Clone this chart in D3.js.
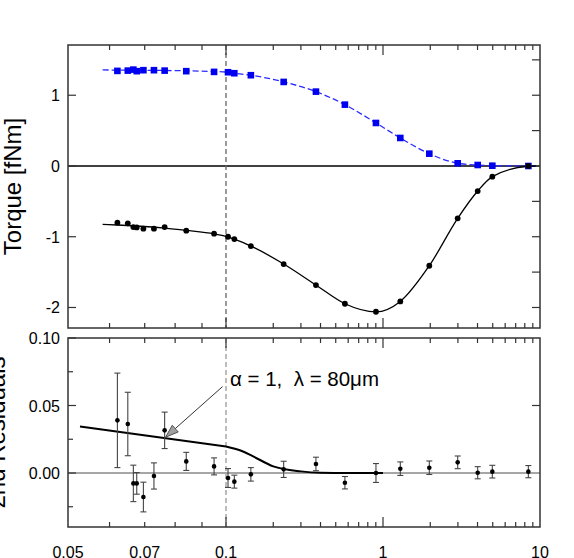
<!DOCTYPE html>
<html>
<head>
  <meta charset="utf-8">
  <script src="https://cdn.jsdelivr.net/npm/d3@7"></script>
<style type="text/css">
  body { margin: 0; background: #fff; }
  text { font-family: "Liberation Sans", Arial, sans-serif; }
</style>
</head>
<body>
<script>
  var w = 574;
  var h = 558;

  // separation values (shared by both torque series and the residuals)
  var sep = [0.0621, 0.065, 0.0666, 0.0676, 0.0696, 0.0729, 0.0764, 0.084, 0.0949,
             0.103, 0.113, 0.144, 0.233, 0.374, 0.572, 0.902, 1.289, 1.972, 2.99,
             4.01, 4.97, 8.43];
  var torqueBlue = [1.344, 1.348, 1.362, 1.34, 1.354, 1.354, 1.348, 1.34, 1.33,
                    1.325, 1.311, 1.283, 1.188, 1.051, 0.867, 0.608, 0.396, 0.174,
                    0.038, 0.014, 0.004, 0.0];
  var torqueBlack = [-0.802, -0.811, -0.863, -0.868, -0.886, -0.886, -0.863, -0.915,
                     -0.957, -1.0, -1.033, -1.132, -1.386, -1.683, -1.947, -2.06,
                     -1.914, -1.41, -0.74, -0.354, -0.151, 0.0];
  var resid = [0.039, 0.0363, -0.0077, -0.0077, -0.0178, -0.0022, 0.0316, 0.0086,
               0.0049, -0.0037, -0.0064, -0.001, 0.0027, 0.0067, -0.0072, 0.0,
               0.0032, 0.0039, 0.0079, 0.0002, 0.001, 0.001];
  var residErr = [0.035, 0.0235, 0.0135, 0.008, 0.011, 0.0097, 0.0135, 0.0067,
                  0.0063, 0.007, 0.0048, 0.005, 0.006, 0.005, 0.0046, 0.007,
                  0.005, 0.005, 0.0047, 0.0045, 0.0047, 0.0045];

  // fitted curves
  var fitX = [0.0582, 0.0621, 0.0764, 0.084, 0.0949, 0.1, 0.113, 0.144, 0.233, 0.374,
              0.572, 0.902, 1.289, 1.972, 2.99, 4.01, 4.97, 8.43, 9.4];
  var fitBlue = [1.358, 1.355, 1.35, 1.345, 1.335, 1.328, 1.311, 1.283, 1.188, 1.051,
                 0.867, 0.608, 0.396, 0.174, 0.038, 0.013, 0.004, 0.0, 0.0];
  var fitBlack = [-0.825, -0.834, -0.877, -0.91, -0.96, -0.995, -1.035, -1.132, -1.386,
                  -1.683, -1.947, -2.062, -1.914, -1.41, -0.74, -0.354, -0.151, -0.004, 0.0];
  // model curve: straight below 0.1, bending down above it
  var modelX1 = [0.0527, 0.1];
  var modelY1 = [0.0345, 0.0197];
  var modelX2 = [0.1, 0.125, 0.149, 0.2, 0.3, 0.4, 0.6, 1.0];
  var modelY2 = [0.0197, 0.0165, 0.0123, 0.0049, 0.0012, 0.0002, 0.0, 0.0];

  var xLabels = [0.05, 0.07, 0.1, 1, 10];
  var xMinor = [0.06, 0.07, 0.08, 0.09, 0.2, 0.3, 0.4, 0.5, 0.6, 0.7, 0.8, 0.9,
                2, 3, 4, 5, 6, 7, 8, 9];
  var xMajor = [0.1, 1];
  var yTopLabels = [1, 0, -1, -2];
  var yTopRight = [1.5, 1, 0.5, -0.5, -1, -1.5, -2];
  var yBotLabels = [0.10, 0.05, 0.00];
  var yBotMinor = [0.075, 0.025, -0.025];

  var left = 68, right = 540;
  var top1 = 45, bot1 = 328, top2 = 338, bot2 = 527;

  var x = d3.scaleLog().domain([0.05, 0.1, 1, 10]).range([68, 226, 383, 540]);
  var yT = d3.scaleLinear().domain([-2.29, 1.71]).range([bot1, top1]);
  var yB = d3.scaleLinear().domain([-0.04, 0.10]).range([bot2, top2]);

  var svg = d3.select("body").append("svg")
    .attr("width", w).attr("height", h);

  var frameCol = "#333";

  function xTicks(g, y0, dir) {
    // dir = 1 ticks go down, -1 go up
    g.selectAll(null).data(xMinor).enter().append("line")
      .attr("x1", function (d) { return x(d); }).attr("x2", function (d) { return x(d); })
      .attr("y1", y0).attr("y2", y0 + dir * 5)
      .attr("stroke", frameCol).attr("stroke-width", 1.2);
    g.selectAll(null).data(xMajor).enter().append("line")
      .attr("x1", function (d) { return x(d); }).attr("x2", function (d) { return x(d); })
      .attr("y1", y0).attr("y2", y0 + dir * 10)
      .attr("stroke", frameCol).attr("stroke-width", 1.2);
  }

  function yTicks(g, scale, vals, x0, dir, len) {
    g.selectAll(null).data(vals).enter().append("line")
      .attr("x1", x0).attr("x2", x0 + dir * len)
      .attr("y1", function (d) { return scale(d); }).attr("y2", function (d) { return scale(d); })
      .attr("stroke", frameCol).attr("stroke-width", 1.2);
  }

  // ---------- top panel ----------
  var g1 = svg.append("g");

  g1.append("line")
    .attr("x1", left).attr("x2", right).attr("y1", yT(0)).attr("y2", yT(0))
    .attr("stroke", "#000").attr("stroke-width", 1.3);

  g1.append("line")
    .attr("x1", x(0.1)).attr("x2", x(0.1)).attr("y1", top1).attr("y2", bot1)
    .attr("stroke", "#666").attr("stroke-width", 1.3).attr("stroke-dasharray", "5,3");

  var lineT = d3.line()
    .x(function (d) { return x(d[0]); }).y(function (d) { return yT(d[1]); })
    .curve(d3.curveMonotoneX);

  g1.append("path")
    .attr("d", lineT(d3.zip(fitX, fitBlue)))
    .attr("fill", "none").attr("stroke", "#2a2aff").attr("stroke-width", 1.3)
    .attr("stroke-dasharray", "6,3");

  g1.append("path")
    .attr("d", lineT(d3.zip(fitX, fitBlack)))
    .attr("fill", "none").attr("stroke", "#000").attr("stroke-width", 1.3);

  g1.selectAll(".sq").data(d3.zip(sep, torqueBlue)).enter().append("rect")
    .attr("x", function (d) { return x(d[0]) - 3.3; })
    .attr("y", function (d) { return yT(d[1]) - 3.3; })
    .attr("width", 6.6).attr("height", 6.6)
    .attr("fill", "#0000f0");

  g1.selectAll(".dot").data(d3.zip(sep, torqueBlack)).enter().append("circle")
    .attr("cx", function (d) { return x(d[0]); })
    .attr("cy", function (d) { return yT(d[1]); })
    .attr("r", 2.9).attr("fill", "#000");

  g1.append("rect")
    .attr("x", left).attr("y", top1).attr("width", right - left).attr("height", bot1 - top1)
    .attr("fill", "none").attr("stroke", frameCol).attr("stroke-width", 1.5);

  xTicks(g1, top1, 1);
  xTicks(g1, bot1, -1);
  yTicks(g1, yT, yTopLabels, left, 1, 8);
  yTicks(g1, yT, yTopRight, right, -1, 8);

  g1.selectAll(".yl").data(yTopLabels).enter().append("text")
    .attr("x", 60).attr("y", function (d) { return yT(d) + 6; })
    .attr("text-anchor", "end").attr("font-size", 16)
    .text(function (d) { return d < 0 ? "-" + Math.abs(d) : d; });

  g1.append("text")
    .attr("transform", "translate(21," + ((top1 + bot1) / 2) + ") rotate(-90)")
    .attr("text-anchor", "middle").attr("font-size", 24)
    .text("Torque [fNm]");

  // ---------- bottom panel ----------
  var g2 = svg.append("g");

  g2.append("line")
    .attr("x1", left).attr("x2", right).attr("y1", yB(0)).attr("y2", yB(0))
    .attr("stroke", "#888").attr("stroke-width", 1.3);

  g2.append("line")
    .attr("x1", x(0.1)).attr("x2", x(0.1)).attr("y1", top2).attr("y2", bot2)
    .attr("stroke", "#999").attr("stroke-width", 1.3).attr("stroke-dasharray", "5,3");

  var lineB = d3.line()
    .x(function (d) { return x(d[0]); }).y(function (d) { return yB(d[1]); });

  g2.append("path")
    .attr("d", lineB(d3.zip(modelX1, modelY1)) +
      lineB.curve(d3.curveMonotoneX)(d3.zip(modelX2, modelY2)))
    .attr("fill", "none").attr("stroke", "#000").attr("stroke-width", 2)
    .attr("stroke-linejoin", "round");

  var rd = d3.zip(sep, resid, residErr);
  var eb = g2.selectAll(".eb").data(rd).enter().append("g").attr("stroke", "#444")
    .attr("stroke-width", 1.1);
  eb.append("line")
    .attr("x1", function (d) { return x(d[0]); }).attr("x2", function (d) { return x(d[0]); })
    .attr("y1", function (d) { return yB(d[1] - d[2]); })
    .attr("y2", function (d) { return yB(d[1] + d[2]); });
  eb.append("line")
    .attr("x1", function (d) { return x(d[0]) - 3; }).attr("x2", function (d) { return x(d[0]) + 3; })
    .attr("y1", function (d) { return yB(d[1] + d[2]); })
    .attr("y2", function (d) { return yB(d[1] + d[2]); });
  eb.append("line")
    .attr("x1", function (d) { return x(d[0]) - 3; }).attr("x2", function (d) { return x(d[0]) + 3; })
    .attr("y1", function (d) { return yB(d[1] - d[2]); })
    .attr("y2", function (d) { return yB(d[1] - d[2]); });

  g2.selectAll(".rdot").data(rd).enter().append("circle")
    .attr("cx", function (d) { return x(d[0]); })
    .attr("cy", function (d) { return yB(d[1]); })
    .attr("r", 2.3).attr("fill", "#000");

  // annotation arrow
  var ax0 = x(0.0985), ay0 = yB(0.064), ax1 = x(0.0767), ay1 = yB(0.0265);
  var ang = Math.atan2(ay1 - ay0, ax1 - ax0);
  var hl = 13, hw = 4.5;
  var bx = ax1 - hl * Math.cos(ang), by = ay1 - hl * Math.sin(ang);
  g2.append("line")
    .attr("x1", ax0).attr("y1", ay0).attr("x2", bx).attr("y2", by)
    .attr("stroke", "#333").attr("stroke-width", 1);
  g2.append("path")
    .attr("d", "M" + ax1 + "," + ay1 +
      "L" + (bx + hw * Math.sin(ang)) + "," + (by - hw * Math.cos(ang)) +
      "L" + (bx - hw * Math.sin(ang)) + "," + (by + hw * Math.cos(ang)) + "Z")
    .attr("fill", "#a0a0a0").attr("stroke", "#333").attr("stroke-width", 0.8);

  g2.append("text")
    .attr("x", x(0.1) + 4).attr("y", yB(0.0648))
    .attr("font-size", 20.5).attr("xml:space", "preserve")
    .text("\u03b1 = 1,  \u03bb = 80\u03bcm");

  g2.append("rect")
    .attr("x", left).attr("y", top2).attr("width", right - left).attr("height", bot2 - top2)
    .attr("fill", "none").attr("stroke", frameCol).attr("stroke-width", 1.5);

  xTicks(g2, top2, 1);
  xTicks(g2, bot2, -1);
  yTicks(g2, yB, yBotLabels, left, 1, 8);
  yTicks(g2, yB, yBotMinor, left, 1, 5);
  yTicks(g2, yB, [0.05], right, -1, 8);

  g2.selectAll(".yl").data(yBotLabels).enter().append("text")
    .attr("x", 60).attr("y", function (d) { return yB(d) + 6; })
    .attr("text-anchor", "end").attr("font-size", 16)
    .text(function (d) { return d.toFixed(2); });

  g2.selectAll(".xl").data(xLabels).enter().append("text")
    .attr("x", function (d) { return x(d); }).attr("y", 558)
    .attr("text-anchor", "middle").attr("font-size", 16)
    .text(function (d) { return d; });

  g2.append("text")
    .attr("transform", "translate(5," + ((top2 + bot2) / 2) + ") rotate(-90)")
    .attr("text-anchor", "middle").attr("font-size", 24)
    .text("2nd Residuals");
</script>
</body>
</html>
